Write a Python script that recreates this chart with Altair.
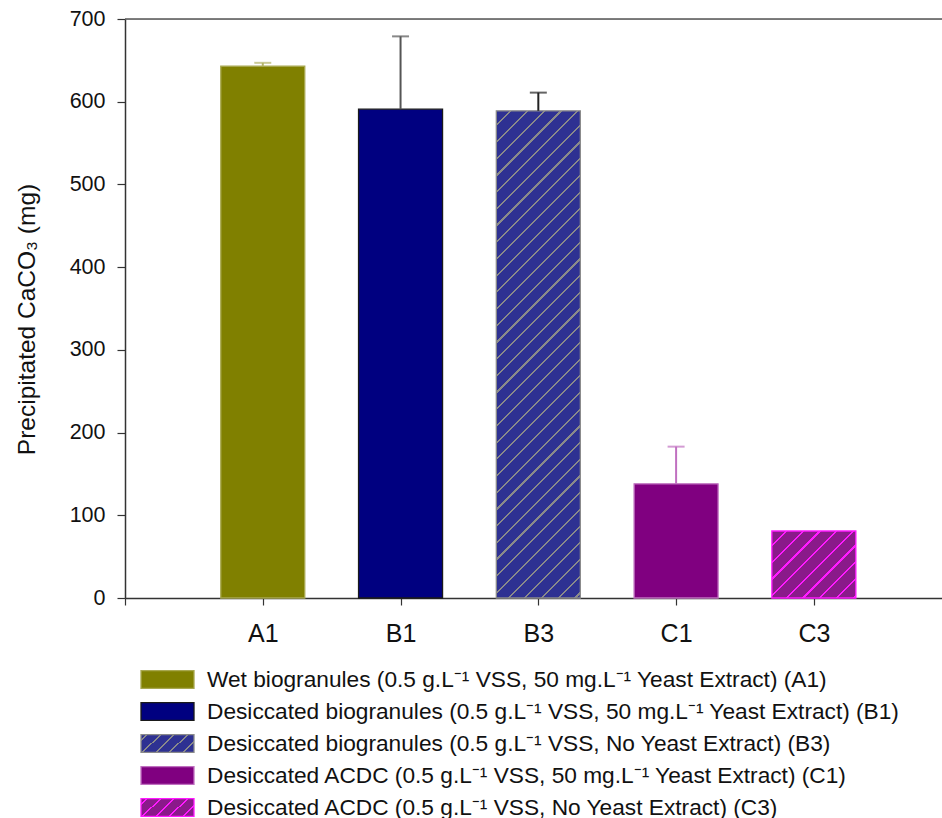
import altair as alt
import pandas as pd

# ---- data -------------------------------------------------------------
categories = ["A1", "B1", "B3", "C1", "C3"]
positions = [1, 2, 3, 4, 5]
means = [643, 591, 589, 138, 81]          # precipitated CaCO3 (mg)
errors = [4, 88, 22, 45, 0]               # upper error (mg)

legend_labels = [
    "Wet biogranules (0.5 g.L⁻¹ VSS, 50 mg.L⁻¹ Yeast Extract) (A1)",
    "Desiccated biogranules (0.5 g.L⁻¹ VSS, 50 mg.L⁻¹ Yeast Extract) (B1)",
    "Desiccated biogranules (0.5 g.L⁻¹ VSS, No Yeast Extract) (B3)",
    "Desiccated ACDC (0.5 g.L⁻¹ VSS, 50 mg.L⁻¹ Yeast Extract) (C1)",
    "Desiccated ACDC (0.5 g.L⁻¹ VSS, No Yeast Extract) (C3)",
]

# ---- styling ----------------------------------------------------------
FONT = "Liberation Sans, Arial, Helvetica, sans-serif"
W, H = 817, 579
Y_MAX = 700
X_MAX = 5.93
BAR_W = 84

fills = ["#808000", "#000080", "#2e3192", "#800080", "#8a1a8a"]
hatches = [None, None, "#8a8a8a", None, "#ff1aff"]
strokes = ["#a8a850", "#1a1a1a", "#8a8a8a", "#c070c0", "#ff1aff"]
err_colors = ["#b4b46a", "#555555", "#222222", "#c070c0", "#ff1aff"]


def hatch_fill(base, line, w, h, period, lw, phase):
    """Diagonal '/' hatching as a hard-stop linear gradient over a w x h box."""
    total = w + h
    stops = [{"color": base, "offset": 0}]
    c = phase
    while c - lw / 2 < total:
        a = max(c - lw / 2, 0) / total
        b = min(c + lw / 2, total) / total
        stops += [
            {"color": base, "offset": a},
            {"color": line, "offset": a},
            {"color": line, "offset": b},
            {"color": base, "offset": b},
        ]
        c += period
    stops.append({"color": base, "offset": 1})
    k = total / (w * w + h * h)
    return {"gradient": "linear", "x1": 0, "y1": 0,
            "x2": w * k, "y2": h * k, "stops": stops}


df = pd.DataFrame({
    "cat": categories,
    "pos": positions,
    "mean": means,
    "err": errors,
})
df["top"] = df["mean"] + df["err"]

x_scale = alt.Scale(domain=[0, X_MAX], nice=False, zero=True, padding=0)
y_scale = alt.Scale(domain=[0, Y_MAX], nice=False, padding=0)

label_expr = "datum.value == 0 ? '' : " + str([""] + categories) + "[datum.value]"

x_axis = alt.Axis(
    values=[0, 1, 2, 3, 4, 5], labelExpr=label_expr, title=None, grid=False,
    tickSize=7, tickColor="#333333", domainColor="#333333", domainWidth=1.5,
    tickWidth=1.2, labelFontSize=25, labelFont=FONT, labelColor="#111111",
    labelPadding=16,
)
y_axis = alt.Axis(
    values=list(range(0, 701, 100)), title="Precipitated CaCO₃ (mg)", grid=False,
    tickSize=8, tickColor="#333333", domainColor="#333333", domainWidth=1.5,
    tickWidth=1.2, labelFontSize=21.5, labelFont=FONT, labelColor="#111111",
    labelPadding=12, titleFont=FONT, titleFontSize=24.5, titleFontWeight="normal",
    titleColor="#111111", titlePadding=30, titleY=300,
)

base = alt.Chart(df)

# axes are attached to the first layer; the other layers share its scales
X_MAIN = alt.X("pos:Q", scale=x_scale, axis=x_axis)
Y_MAIN = alt.Y("mean:Q", scale=y_scale, axis=y_axis)

bar_layers = []
for i, cat in enumerate(categories):
    if hatches[i]:
        h_px = means[i] * H / Y_MAX
        fill = hatch_fill(fills[i], hatches[i], BAR_W, h_px, 16.7, 2.2, 14.7)
    else:
        fill = fills[i]
    layer = base.transform_filter(alt.datum.cat == cat).mark_bar(
        size=BAR_W, fill=fill, stroke=strokes[i], strokeWidth=1.3,
    ).encode(x=X_MAIN, y=Y_MAIN)
    bar_layers.append(layer)

err_color = alt.Color("cat:N", scale=alt.Scale(domain=categories, range=err_colors),
                      legend=None)
err_base = base.transform_filter(alt.datum.err > 0)
err_rules = err_base.mark_rule(strokeWidth=2).encode(
    x=X_MAIN, y=Y_MAIN, y2="top:Q", color=err_color,
)
err_caps = err_base.mark_tick(orient="horizontal", size=17, thickness=2).encode(
    x=X_MAIN, y=alt.Y("top:Q", scale=y_scale, axis=y_axis),
    color=err_color,
)

frame_top = alt.Chart(pd.DataFrame({"ymax": [Y_MAX]})).mark_rule(
    color="#555555", strokeWidth=1.6
).encode(y=alt.Y("ymax:Q", scale=y_scale, axis=y_axis))

plot = alt.layer(*bar_layers, err_rules, err_caps, frame_top)

# ---- legend below the plot --------------------------------------------
leg = pd.DataFrame({"row": list(range(5)), "label": legend_labels})
leg["y0"] = leg["row"] - 0.28
leg["y1"] = leg["row"] + 0.28
leg_y = alt.Scale(domain=[0, 4], range=[660.5, 788.5], nice=False, zero=False)
SW_X0, SW_X1 = 16, 69

leg_layers = []
for i in range(5):
    if hatches[i]:
        fill = hatch_fill(fills[i], hatches[i], SW_X1 - SW_X0, 18, 13.5, 2.0, 6)
    else:
        fill = fills[i]
    leg_layers.append(
        alt.Chart(leg).transform_filter(alt.datum.row == i).mark_rect(
            fill=fill, stroke=strokes[i], strokeWidth=1.3,
        ).encode(
            x=alt.value(SW_X0), x2=alt.value(SW_X1),
            y=alt.Y("y0:Q", scale=leg_y, axis=None), y2="y1:Q",
        )
    )
leg_text = alt.Chart(leg).mark_text(
    align="left", baseline="middle", font=FONT, fontSize=22.7, color="#111111",
).encode(
    x=alt.value(82), y=alt.Y("row:Q", scale=leg_y, axis=None), text="label:N",
)
legend = alt.layer(*leg_layers, leg_text)

chart = alt.layer(plot, legend).resolve_scale(y="independent").properties(
    width=W, height=H,
    autosize=alt.AutoSizeParams(type="none"),
    padding={"left": 125, "top": 19, "right": 0, "bottom": 220},
).configure_view(stroke=None).configure(background="white")

chart.save("out.html", embed_options={"renderer": "svg", "actions": False})
